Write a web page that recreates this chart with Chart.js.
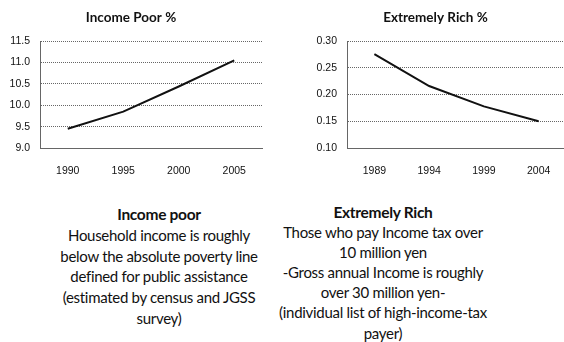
<!DOCTYPE html>
<html>
<head>
<meta charset="utf-8">
<script src="https://cdn.jsdelivr.net/npm/chart.js@4.4.0/dist/chart.umd.min.js"></script>
<style>
  html, body { margin: 0; padding: 0; background: #fff; overflow: hidden; }
  body { width: 564px; height: 342px; position: relative; }
  .box { position: absolute; }
  .note {
    position: absolute; text-align: center; color: #111; white-space: nowrap;
    font-family: Lato, "Open Sans", sans-serif; font-size: 15px; line-height: 20.8px;
    letter-spacing: -0.3px;
  }
  .note b { font-weight: bold; font-size: 15.5px; }
</style>
</head>
<body>
<div class="box" style="left:0;top:0;width:274px;height:175px"><canvas id="poor"></canvas></div>
<div class="box" style="left:305px;top:0;width:267px;height:175px"><canvas id="rich"></canvas></div>

<div class="note" style="left:19px;top:204px;width:280px">
  <b>Income poor</b><br>
  Household income is roughly<br>
  below the absolute poverty line<br>
  defined for public assistance<br>
  (estimated by census and JGSS<br>
  survey)
</div>
<div class="note" style="left:263px;top:202px;width:240px;line-height:20.1px">
  <b>Extremely Rich</b><br>
  Those who pay Income tax over<br>
  10 million yen<br>
  -Gross annual Income is roughly<br>
  over 30 million yen-<br>
  (individual list of high-income-tax<br>
  payer)
</div>

<script>
// income poor share, percent of households
const poorYears = ['1990', '1995', '2000', '2005'];
const poorValues = [9.45, 9.85, 10.44, 11.05];
const poorTicks = [9.0, 9.5, 10.0, 10.5, 11.0, 11.5];

// extremely rich share, percent of taxpayers
const richYears = ['1989', '1994', '1999', '2004'];
const richValues = [0.276, 0.216, 0.178, 0.150];
const richTicks = [0.10, 0.15, 0.20, 0.25, 0.30];

function makeChart(id, title, labels, values, ticks, decimals) {
    const ctx = document.getElementById(id);
    return new Chart(ctx, {
        type: 'line',
        data: {
            labels: labels,
            datasets: [{
                data: values,
                borderColor: '#111',
                borderWidth: 2,
                pointRadius: 0,
                tension: 0,
                fill: false
            }]
        },
        options: {
            responsive: true,
            maintainAspectRatio: false,
            animation: false,
            layout: { padding: { left: 0, right: id === 'poor' ? 12 : 6, top: 0, bottom: 0 } },
            plugins: {
                legend: { display: false },
                tooltip: { enabled: false },
                title: {
                    display: true,
                    text: title,
                    color: '#111',
                    font: { family: 'Lato', size: 13.5, weight: 'bold' },
                    padding: { top: 10, bottom: 15 }
                }
            },
            scales: {
                x: {
                    offset: true,
                    grid: { display: false },
                    border: { display: true, color: '#666', dash: [1, 1] },
                    ticks: {
                        color: '#111',
                        padding: 9,
                        font: { family: 'Liberation Sans', size: 10.5 }
                    },
                    afterFit: scale => { scale.height = 27; }
                },
                y: {
                    min: ticks[0],
                    max: ticks[ticks.length - 1],
                    afterBuildTicks: scale => {
                        scale.ticks = ticks.map(v => ({ value: v }));
                    },
                    // dotted gridlines and axis line
                    grid: { color: '#666', drawTicks: false },
                    border: { display: true, color: '#666', dash: [1, 1] },
                    ticks: {
                        color: '#111',
                        padding: 10,
                        font: { family: 'Liberation Sans', size: 10.5 },
                        callback: v => Number(v).toFixed(decimals)
                    },
                    afterFit: scale => { scale.width = id === 'poor' ? 40 : 42; }
                }
            }
        }
    });
}

makeChart('poor', 'Income Poor %', poorYears, poorValues, poorTicks, 1);
makeChart('rich', 'Extremely Rich %', richYears, richValues, richTicks, 2);
</script>
</body>
</html>
